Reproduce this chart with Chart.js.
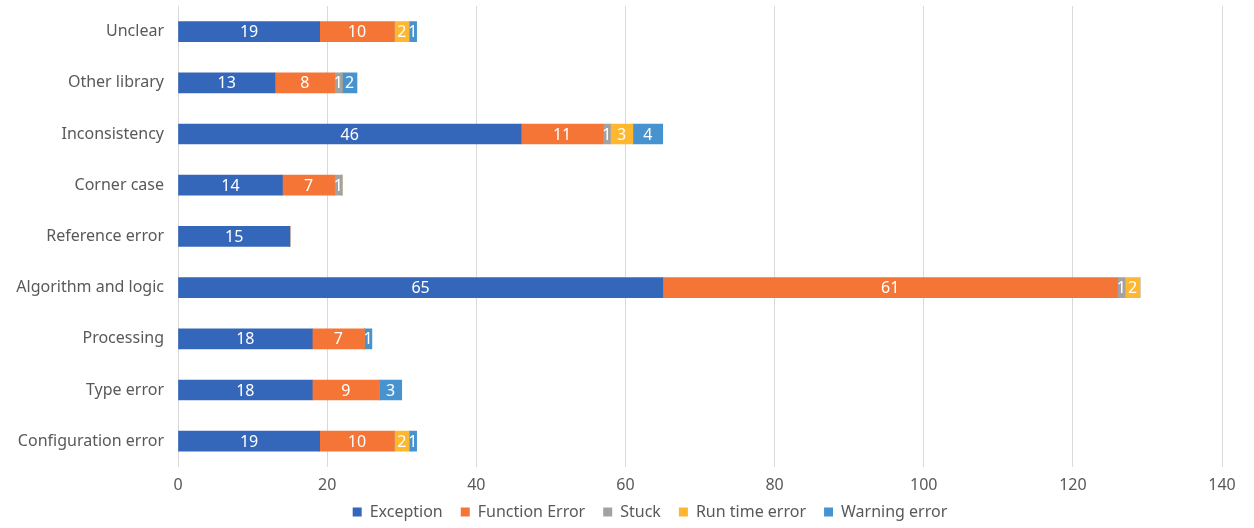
<!DOCTYPE html>
<html>
<head>
<meta charset="utf-8">
<script src="https://cdn.jsdelivr.net/npm/chart.js@4.4.0/dist/chart.umd.min.js"></script>
<style>
  html, body { margin: 0; padding: 0; background: #fff; }
  #wrap { width: 1254px; height: 528px; }
</style>
</head>
<body>
<div id="wrap"><canvas id="chart"></canvas></div>
<script>
const categories = ["Unclear", "Other library", "Inconsistency", "Corner case", "Reference error",
  "Algorithm and logic", "Processing", "Type error", "Configuration error"];

const exception = [19, 13, 46, 14, 15, 65, 18, 18, 19];
const functionError = [10, 8, 11, 7, 0, 61, 7, 9, 10];
const stuck = [0, 1, 1, 1, 0, 1, 0, 0, 0];
const runTimeError = [2, 0, 3, 0, 0, 2, 0, 0, 2];
const warningError = [1, 2, 4, 0, 0, 0, 1, 3, 1];

const xTicks = [0, 20, 40, 60, 80, 100, 120, 140];

const font = "'Noto Sans', 'Noto Sans CJK SC', sans-serif";

// white value labels in the middle of each segment
const segmentLabels = {
  id: "segmentLabels",
  afterDatasetsDraw(chart) {
    const ctx = chart.ctx;
    ctx.save();
    ctx.fillStyle = "#ffffff";
    ctx.font = "16px " + font;
    ctx.textAlign = "center";
    ctx.textBaseline = "middle";
    chart.data.datasets.forEach((ds, i) => {
      const meta = chart.getDatasetMeta(i);
      if (meta.hidden) return;
      meta.data.forEach((bar, j) => {
        const v = ds.data[j];
        if (!v) return;
        const cx = (bar.x + bar.base) / 2;
        ctx.fillText(String(v), cx, bar.y + 1);
      });
    });
    ctx.restore();
  }
};

// legend sits a bit right of centre and tucked under the axis in the original
const legendShift = {
  id: "legendShift",
  afterLayout(chart) {
    const lg = chart.legend;
    lg.left += 39;
    lg.right += 39;
    lg.top = 486;
    lg.bottom = 528;
    lg.height = 42;
  }
};

new Chart(document.getElementById("chart"), {
  type: "bar",
  data: {
    labels: categories,
    datasets: [
      { label: "Exception", data: exception, backgroundColor: "#3467ba" },
      { label: "Function Error", data: functionError, backgroundColor: "#f47536" },
      { label: "Stuck", data: stuck, backgroundColor: "#a2a2a2" },
      { label: "Run time error", data: runTimeError, backgroundColor: "#feb72e" },
      { label: "Warning error", data: warningError, backgroundColor: "#4793cf" }
    ]
  },
  options: {
    indexAxis: "y",
    responsive: true,
    maintainAspectRatio: false,
    animation: false,
    datasets: { bar: { barThickness: 20 } },
    layout: { padding: { top: 6, right: 32, bottom: 0, left: 0 } },
    plugins: {
      legend: {
        position: "bottom",
        maxHeight: 24,
        labels: {
          color: "#595959",
          font: { size: 16, family: font },
          usePointStyle: true,
          pointStyle: "rect",
          boxWidth: 9,
          boxHeight: 9,
          padding: 18
        }
      },
      tooltip: { enabled: false }
    },
    scales: {
      x: {
        stacked: true,
        min: 0,
        max: 140,
        afterBuildTicks: (scale) => { scale.ticks = xTicks.map(v => ({ value: v })); },
        grid: { color: "#d9d9d9", drawTicks: false },
        border: { display: false },
        ticks: { color: "#595959", font: { size: 16, family: font }, padding: 9 }
      },
      y: {
        stacked: true,
        afterFit: (scale) => {
          scale.width = 178;
          scale.paddingTop = 0;
          scale.paddingBottom = 0;
        },
        grid: { display: false, drawTicks: false },
        border: { display: false },
        ticks: { color: "#595959", font: { size: 16, family: font }, padding: 14 }
      }
    }
  },
  plugins: [segmentLabels, legendShift]
});
</script>
</body>
</html>
